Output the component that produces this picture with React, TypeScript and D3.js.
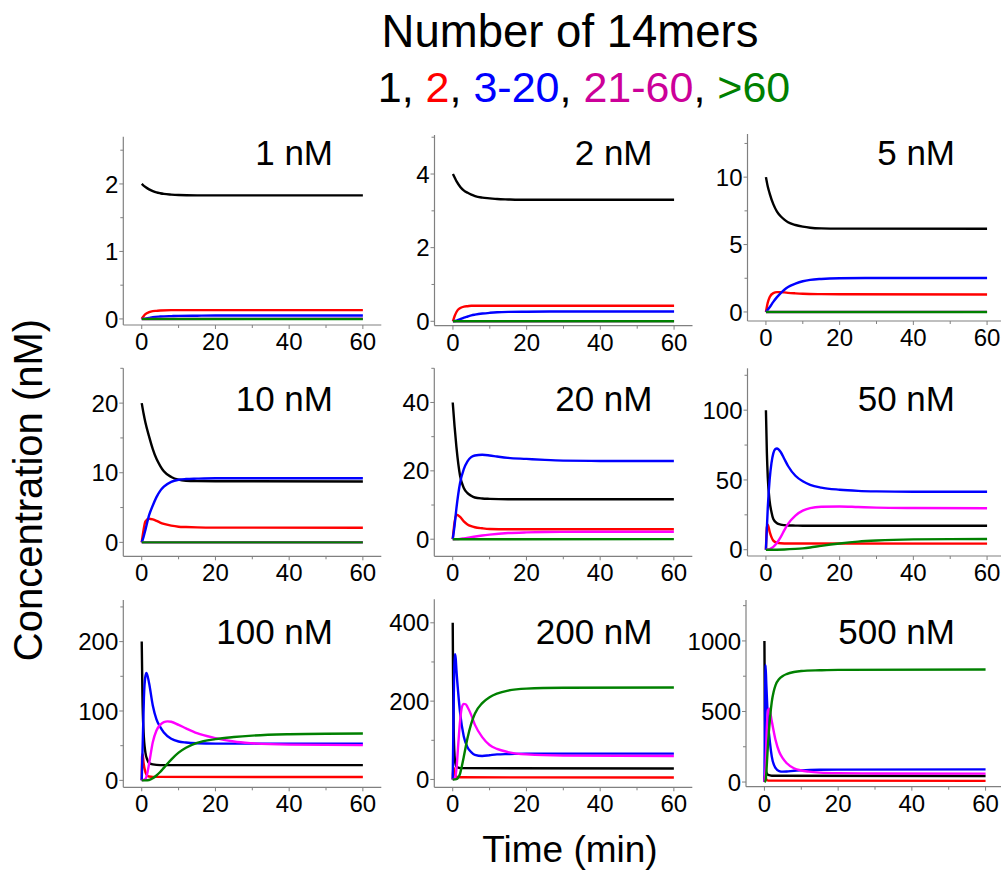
import React from 'react';
import * as d3 from 'd3';

type Pt = [number, number];

// concentration of each panel and the legend groups
const panelTitles = ['1 nM', '2 nM', '5 nM', '10 nM', '20 nM', '50 nM', '100 nM', '200 nM', '500 nM'];
const legendParts = ['1', '2', '3-20', '21-60', '>60'];
const legendColors = ['#000000', '#ff0000', '#0000ff', '#cc0099', '#008000'];
const seriesColors = ['#000000', '#ff0000', '#0000ff', '#ff00ff', '#008000'];

const xTicks = [0, 20, 40, 60];
const xMinor = [10, 30, 50];
const yTicks = [[0, 1, 2], [0, 2, 4], [0, 5, 10], [0, 10, 20], [0, 20, 40], [0, 50, 100], [0, 100, 200], [0, 200, 400], [0, 500, 1000]];
const yMinor = [[0.5, 1.5, 2.5], [1, 3, 5], [2.5, 7.5, 12.5], [5, 15, 25], [10, 30, 50], [25, 75, 125], [50, 150, 250], [100, 300], [250, 750, 1250]];
const yDomains: Pt[] = [[-0.09, 2.7], [-0.12, 5.06], [-0.67, 13.2], [-2, 25], [-5, 50], [-4.5, 130], [-10, 260], [-20, 460], [-33, 1290]];

// series order: 1, 2, 3-20, 21-60, >60  (time in min, concentration in nM)
const p1: Pt[][] = [
  [[0, 2], [0.5, 1.975], [1, 1.955], [2, 1.92], [3, 1.895], [4, 1.875], [5, 1.862], [6, 1.852], [8, 1.842], [10, 1.836], [15, 1.831], [20, 1.83], [60, 1.83]],
  [[0, 0], [0.5, 0.04], [1, 0.07], [2, 0.1], [3, 0.115], [4, 0.12], [5, 0.125], [8, 0.13], [60, 0.13]],
  [[0, 0], [1, 0.005], [2, 0.015], [3, 0.025], [5, 0.035], [8, 0.042], [10, 0.045], [15, 0.048], [20, 0.05], [60, 0.05]],
  [[0, 0], [60, 0.002]],
  [[0, 0], [60, 0]],
];
const p2: Pt[][] = [
  [[0, 4], [0.5, 3.9], [1, 3.8], [2, 3.65], [3, 3.55], [4, 3.49], [5, 3.44], [6, 3.4], [8, 3.36], [10, 3.34], [12, 3.32], [15, 3.31], [20, 3.3], [60, 3.3]],
  [[0, 0], [0.5, 0.15], [1, 0.26], [2, 0.36], [3, 0.4], [4, 0.41], [5, 0.42], [8, 0.42], [60, 0.42]],
  [[0, 0], [1, 0.02], [2, 0.06], [3, 0.1], [4, 0.13], [5, 0.16], [6, 0.18], [8, 0.21], [10, 0.23], [12, 0.245], [15, 0.255], [20, 0.26], [30, 0.265], [60, 0.265]],
  [[0, 0], [60, 0.003]],
  [[0, 0], [60, 0]],
];
const p3: Pt[][] = [
  [[0, 10], [0.5, 9.3], [1, 8.8], [2, 8.0], [3, 7.45], [4, 7.1], [5, 6.85], [6, 6.65], [8, 6.45], [10, 6.33], [12, 6.25], [15, 6.2], [20, 6.18], [60, 6.17]],
  [[0, 0], [0.5, 0.7], [1, 1.1], [2, 1.4], [3, 1.47], [4, 1.47], [5, 1.45], [6, 1.42], [8, 1.38], [10, 1.35], [15, 1.32], [20, 1.31], [60, 1.3]],
  [[0, 0], [1, 0.35], [2, 0.75], [3, 1.1], [4, 1.4], [5, 1.65], [6, 1.85], [8, 2.1], [10, 2.28], [12, 2.38], [15, 2.45], [20, 2.5], [30, 2.52], [60, 2.52]],
  [[0, 0], [60, 0.01]],
  [[0, 0], [60, 0]],
];
const p4: Pt[][] = [
  [[0, 20], [0.5, 18.5], [1, 17.2], [2, 15.2], [3, 13.4], [4, 12.0], [5, 11.0], [6, 10.2], [8, 9.4], [10, 9.0], [12, 8.85], [15, 8.8], [20, 8.78], [60, 8.75]],
  [[0, 0], [0.5, 1.8], [1, 3.0], [2, 3.4], [3, 3.3], [4, 3.1], [5, 2.85], [6, 2.65], [8, 2.4], [10, 2.25], [12, 2.2], [15, 2.15], [20, 2.12], [60, 2.1]],
  [[0, 0], [0.5, 0.8], [1, 1.8], [2, 3.9], [3, 5.3], [4, 6.5], [5, 7.4], [6, 8.0], [8, 8.7], [10, 9.0], [12, 9.1], [15, 9.15], [20, 9.2], [60, 9.2]],
  [[0, 0], [60, 0.02]],
  [[0, 0], [60, 0]],
];
const p5: Pt[][] = [
  [[0, 40], [0.5, 33], [1, 27], [2, 18.5], [3, 15], [4, 13.5], [5, 12.7], [6, 12.2], [8, 11.9], [10, 11.8], [15, 11.7], [60, 11.7]],
  [[0, 0], [0.5, 5], [1, 7.2], [2, 6.5], [3, 5.2], [4, 4.3], [5, 3.8], [6, 3.5], [8, 3.2], [10, 3.0], [15, 2.9], [60, 2.9]],
  [[0, 0], [0.5, 4], [1, 9], [2, 16.5], [3, 20.5], [4, 22.8], [5, 24], [6, 24.5], [8, 24.7], [10, 24.5], [12, 24.2], [15, 23.8], [20, 23.5], [25, 23.2], [30, 23.0], [40, 22.9], [60, 22.9]],
  [[0, 0], [1, 0.02], [2, 0.1], [3, 0.25], [5, 0.6], [8, 1.1], [10, 1.35], [15, 1.8], [20, 2.0], [25, 2.1], [30, 2.15], [40, 2.2], [60, 2.2]],
  [[0, 0], [60, 0.02]],
];
const p6: Pt[][] = [
  [[0, 100], [0.25, 70], [0.5, 52], [1, 35], [1.5, 27], [2, 22], [3, 19], [4, 18], [5, 17.6], [6, 17.4], [8, 17.3], [10, 17.2], [60, 17.2]],
  [[0, 0], [0.25, 16], [0.5, 18], [1, 13], [1.5, 9], [2, 6.5], [3, 5], [4, 4.6], [5, 4.5], [60, 4.4]],
  [[0, 0], [0.5, 30], [1, 50], [1.5, 62], [2, 69], [2.5, 72], [3, 72.5], [4, 70], [5, 65], [6, 60], [8, 53], [10, 49], [12, 46.5], [15, 44.5], [20, 43], [25, 42.2], [30, 41.8], [40, 41.5], [60, 41.5]],
  [[0, 0], [1, 0.5], [2, 2], [3, 5], [4, 9], [5, 14], [6, 18.5], [8, 24.5], [10, 28], [12, 29.8], [15, 30.8], [20, 31], [25, 30.6], [30, 30.2], [40, 29.9], [60, 29.7]],
  [[0, 0], [5, 0.2], [8, 0.6], [10, 1.0], [12, 1.6], [15, 2.8], [20, 4.5], [25, 5.8], [30, 6.6], [40, 7.4], [50, 7.6], [60, 7.7]],
];
const p7: Pt[][] = [
  [[0, 200], [0.2, 120], [0.5, 70], [1, 40], [1.5, 30], [2, 25], [3, 23], [5, 22], [60, 22]],
  [[0, 0], [0.1, 35], [0.25, 38], [0.5, 25], [1, 12], [1.5, 7], [2, 5.5], [3, 5], [60, 4.8]],
  [[0, 0], [0.3, 60], [0.6, 120], [1, 150], [1.3, 155], [2, 140], [3, 108], [4, 88], [5, 77], [6, 69], [8, 60], [10, 56], [12, 54.5], [15, 53.5], [20, 53], [60, 53]],
  [[0, 0], [1, 2], [1.5, 10], [2, 24], [3, 55], [4, 72], [5, 80], [6, 84], [7, 85], [8, 84.5], [10, 80], [12, 75], [15, 68], [20, 61], [25, 56], [30, 53.5], [40, 51.5], [60, 50.8]],
  [[0, 0], [1, 0], [2, 0.5], [3, 3], [4, 7], [5, 12], [6, 18], [8, 30], [10, 40], [12, 47], [15, 54], [20, 59.5], [25, 62.5], [30, 64.5], [40, 66.5], [50, 67.3], [60, 67.5]],
];
const p8: Pt[][] = [
  [[0, 400], [0.1, 250], [0.25, 130], [0.5, 60], [0.75, 40], [1, 33], [1.5, 30], [2, 29], [60, 28]],
  [[0, 0], [0.1, 30], [0.25, 30], [0.5, 15], [1, 7], [2, 5.5], [60, 5]],
  [[0, 0], [0.2, 150], [0.4, 280], [0.6, 320], [0.8, 310], [1, 280], [1.5, 220], [2, 170], [3, 110], [4, 82], [5, 70], [6, 63], [8, 60], [10, 62], [12, 64], [15, 65], [20, 66], [60, 66]],
  [[0, 0], [0.5, 2], [1, 25], [1.5, 90], [2, 150], [2.5, 185], [3, 193], [3.5, 192], [4, 185], [5, 165], [6, 140], [8, 108], [10, 88], [12, 78], [15, 70], [20, 64], [30, 61], [60, 60]],
  [[0, 0], [1, 1], [1.5, 5], [2, 15], [2.5, 35], [3, 58], [4, 105], [5, 142], [6, 168], [8, 195], [10, 210], [12, 219], [15, 227], [20, 232], [30, 234], [60, 235]],
];
const p9: Pt[][] = [
  [[0, 1000], [0.1, 500], [0.25, 150], [0.5, 70], [1, 50], [2, 45], [60, 43]],
  [[0, 0], [0.1, 50], [0.3, 40], [0.5, 20], [1, 10], [60, 8]],
  [[0, 0], [0.15, 500], [0.3, 830], [0.5, 700], [0.75, 550], [1, 420], [1.5, 280], [2, 180], [3, 100], [4, 78], [5, 74], [6, 75], [8, 80], [10, 83], [15, 87], [20, 88], [60, 90]],
  [[0, 0], [0.3, 100], [0.6, 350], [1, 510], [1.3, 520], [2, 430], [3, 300], [4, 215], [5, 168], [6, 135], [8, 98], [10, 82], [12, 74], [15, 67], [20, 63], [30, 61], [60, 60]],
  [[0, 0], [0.3, 10], [0.5, 60], [0.75, 170], [1, 280], [1.5, 450], [2, 570], [2.5, 640], [3, 685], [4, 730], [5, 752], [6, 765], [8, 780], [10, 787], [15, 792], [20, 795], [60, 797]],
];
const panels = [p1, p2, p3, p4, p5, p6, p7, p8, p9];

// pixel frame of each panel: y-axis x, top, x-axis y, title right edge, title baseline
const frames = [
  { left: 123.3, top: 136.7, bottom: 325, tx: 333, ty: 165 },
  { left: 434.5, top: 135, bottom: 325.7, tx: 652.5, ty: 165 },
  { left: 747.5, top: 134, bottom: 321, tx: 955, ty: 165 },
  { left: 123.3, top: 368.3, bottom: 556.3, tx: 333, ty: 411 },
  { left: 434.3, top: 368.3, bottom: 556.3, tx: 652.5, ty: 411 },
  { left: 747.5, top: 368.3, bottom: 556, tx: 955, ty: 411 },
  { left: 123.3, top: 600, bottom: 787.3, tx: 333, ty: 644 },
  { left: 434.3, top: 599.3, bottom: 787.3, tx: 652.5, ty: 644 },
  { left: 746, top: 600, bottom: 786.7, tx: 955, ty: 644 },
];

const FONT = "'Liberation Sans', Arial, Helvetica, sans-serif";
const AXIS = '#808080';

const Panel: React.FC<{ i: number }> = ({ i }) => {
  const f = frames[i];
  const x = d3.scaleLinear().domain([-5, 65]).range([f.left, f.left + 258]);
  const y = d3.scaleLinear().domain(yDomains[i]).range([f.bottom, f.top]);
  const line = d3.line<Pt>().x(d => x(d[0])).y(d => y(d[1])).curve(d3.curveMonotoneX);
  const fmt = (v: number) => String(v);

  return (
    <g>
      {panels[i].map((s, k) => (
        <path key={k} d={line(s) ?? ''} fill="none" stroke={seriesColors[k]} strokeWidth={2.4} strokeLinejoin="round" />
      ))}
      <line x1={f.left} x2={f.left} y1={f.top} y2={f.bottom} stroke={AXIS} strokeWidth={1.2} />
      <line x1={f.left} x2={x(65)} y1={f.bottom} y2={f.bottom} stroke={AXIS} strokeWidth={1.2} />
      {xTicks.map(t => (
        <g key={'x' + t}>
          <line x1={x(t)} x2={x(t)} y1={f.bottom} y2={f.bottom + 4} stroke={AXIS} strokeWidth={1} />
          <text x={x(t)} y={f.bottom + 25} textAnchor="middle" fontSize={24} fontFamily={FONT}>{fmt(t)}</text>
        </g>
      ))}
      {xMinor.map(t => (
        <line key={'xm' + t} x1={x(t)} x2={x(t)} y1={f.bottom} y2={f.bottom + 3} stroke={AXIS} strokeWidth={1} />
      ))}
      {yTicks[i].map(v => (
        <g key={'y' + v}>
          <line x1={f.left - 4} x2={f.left} y1={y(v)} y2={y(v)} stroke={AXIS} strokeWidth={1} />
          <text x={f.left - 5} y={y(v)} dy="0.36em" textAnchor="end" fontSize={24} fontFamily={FONT}>{fmt(v)}</text>
        </g>
      ))}
      {yMinor[i].map(v => (
        <line key={'ym' + v} x1={f.left - 3} x2={f.left} y1={y(v)} y2={y(v)} stroke={AXIS} strokeWidth={1} />
      ))}
      <text x={f.tx} y={f.ty} textAnchor="end" fontSize={35} fontFamily={FONT}>{panelTitles[i]}</text>
    </g>
  );
};

const App: React.FC = () => {
  return (
    <div style={{ position: 'absolute', left: 0, top: 0 }}>
      <svg width={1001} height={872} style={{ display: 'block', background: '#fff' }}>
        <rect width={1001} height={872} fill="#fff" />
        <text x={570} y={47} textAnchor="middle" fontSize={45.5} fontFamily={FONT}>Number of 14mers</text>
        <text x={584} y={102} textAnchor="middle" fontSize={43} fontFamily={FONT}>
          {legendParts.map((p, k) => (
            <React.Fragment key={k}>
              <tspan fill={legendColors[k]}>{p}</tspan>
              {k < legendParts.length - 1 && <tspan fill="#000">, </tspan>}
            </React.Fragment>
          ))}
        </text>
        {panels.map((_, i) => <Panel key={i} i={i} />)}
        <text transform="translate(41.5,490) rotate(-90)" textAnchor="middle" fontSize={40} fontFamily={FONT}>Concentration (nM)</text>
        <text x={570} y={862} textAnchor="middle" fontSize={37} fontFamily={FONT}>Time (min)</text>
      </svg>
    </div>
  );
};

export default App;
